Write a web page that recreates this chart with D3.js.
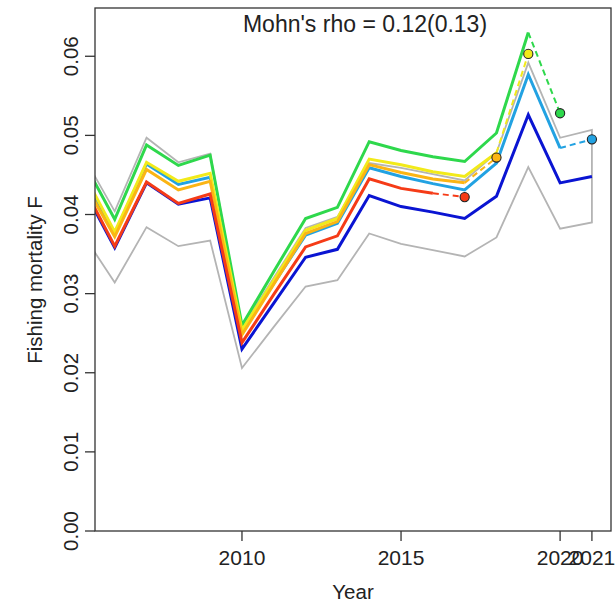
<!DOCTYPE html>
<html><head><meta charset="utf-8">
<script src="https://cdn.jsdelivr.net/npm/d3@7"></script>
<style>body{margin:0;background:#fff}svg{display:block;font-family:"Liberation Sans",Arial,sans-serif}</style>
</head><body><svg id="c" width="615" height="604"></svg>
<script>
// ---- data ----
const years = [2005,2006,2007,2008,2009,2010,2011,2012,2013,2014,2015,2016,2017,2018,2019,2020,2021];
const base  = [0.0434,0.0358,0.0440,0.0413,0.0421,0.0230,0.0288,0.0346,0.0356,0.0424,0.0410,0.0403,0.0395,0.0423,0.0526,0.0440,0.0448];
const peel1 = [0.0450,0.0376,0.0464,0.0438,0.0447,0.0252,0.0313,0.0374,0.0389,0.0459,0.0448,0.0439,0.0431,0.0465,0.0577,0.0484];
const peel2 = [0.0468,0.0394,0.0488,0.0462,0.0475,0.0260,0.0328,0.0395,0.0409,0.0492,0.0481,0.0473,0.0467,0.0503,0.0630];
const peel3 = [0.0454,0.0378,0.0466,0.0442,0.0452,0.0254,0.0317,0.0380,0.0395,0.0470,0.0463,0.0454,0.0448,0.0478];
const peel4 = [0.0443,0.0372,0.0457,0.0431,0.0442,0.0248,0.0312,0.0376,0.0391,0.0463,0.0453,0.0445,0.0440];
const peel5 = [0.0437,0.0360,0.0441,0.0414,0.0426,0.0238,0.0299,0.0359,0.0373,0.0445,0.0433,0.0427];
const ciUpper = [0.0475,0.0404,0.0497,0.0466,0.0477,0.0257,0.0320,0.0383,0.0397,0.0465,0.0459,0.0451,0.0443,0.0478,0.0592,0.0497,0.0507];
const ciLower = [0.0375,0.0314,0.0384,0.0360,0.0367,0.0206,0.0258,0.0309,0.0317,0.0376,0.0363,0.0355,0.0347,0.0371,0.0460,0.0382,0.0390];
const forecastYears  = [2021,2020,2019,2018,2017];
const forecastValues = [0.0495,0.0528,0.0603,0.0472,0.0422];
const seriesColors = ["#0A14D2","#22A2E2","#2ED84C","#F2EA1A","#FBB514","#F53B17"];
const xTicks = [2010,2015,2020,2021];
const yTicks = [0,0.01,0.02,0.03,0.04,0.05,0.06];
const titleText = "Mohn's rho = 0.12(0.13)";
const xLabel = "Year", yLabel = "Fishing mortality F";

// ---- layout ----
const L = 95, R = 611, T = 8, B = 531;
const x = d3.scaleLinear().domain([2005.38, 2021.6]).range([L, R]);
const y = d3.scaleLinear().domain([0, 0.0661]).range([B, T]);
const svg = d3.select("#c");

svg.append("clipPath").attr("id","clip").append("rect")
  .attr("x",L).attr("y",T).attr("width",R-L).attr("height",B-T);
const g = svg.append("g").attr("clip-path","url(#clip)");

const line = d3.line().x(d=>x(d[0])).y(d=>y(d[1]));

// CI polygon outline
const poly = years.map((yr,i)=>[yr,ciUpper[i]]).concat(years.map((yr,i)=>[yr,ciLower[i]]).reverse());
g.append("path").attr("d", line(poly)+"Z").attr("fill","none")
  .attr("stroke","#b4b4b4").attr("stroke-width",1.8);

const models = [base, peel1, peel2, peel3, peel4, peel5];
models.forEach((vals,k)=>{
  const pts = vals.map((v,i)=>[years[i],v]);
  g.append("path").attr("d",line(pts)).attr("fill","none")
    .attr("stroke",seriesColors[k]).attr("stroke-width",3).attr("stroke-linejoin","miter");
});
// dashed forecasts
models.slice(1).forEach((vals,j)=>{
  const last = [years[vals.length-1], vals[vals.length-1]];
  const fc = [forecastYears[j], forecastValues[j]];
  g.append("path").attr("d",line([last,fc])).attr("fill","none")
    .attr("stroke",seriesColors[j+1]).attr("stroke-width",2).attr("stroke-dasharray","6,4");
});
models.slice(1).forEach((vals,j)=>{
  g.append("circle").attr("cx",x(forecastYears[j])).attr("cy",y(forecastValues[j])).attr("r",4.6)
    .attr("fill",seriesColors[j+1]).attr("stroke","#222").attr("stroke-width",1.1);
});

// box
svg.append("rect").attr("x",L).attr("y",T).attr("width",R-L).attr("height",B-T)
  .attr("fill","none").attr("stroke","#333").attr("stroke-width",1.3);

// x axis
const xa = svg.append("g");
xTicks.forEach(t=>{
  xa.append("line").attr("x1",x(t)).attr("x2",x(t)).attr("y1",B).attr("y2",B+10)
    .attr("stroke","#333").attr("stroke-width",1.3);
  xa.append("text").attr("x",x(t)).attr("y",565).attr("text-anchor","middle")
    .attr("font-size",21).attr("fill","#222").text(t);
});
// y axis
const ya = svg.append("g");
yTicks.forEach(t=>{
  ya.append("line").attr("x1",L).attr("x2",L-10).attr("y1",y(t)).attr("y2",y(t))
    .attr("stroke","#333").attr("stroke-width",1.3);
  ya.append("text").attr("transform",`translate(78,${y(t)}) rotate(-90)`)
    .attr("text-anchor","middle").attr("font-size",20.5).attr("fill","#222")
    .text(d3.format(".2f")(t));
});
svg.append("text").attr("x",353).attr("y",599).attr("text-anchor","middle")
  .attr("font-size",20.5).attr("fill","#222").text(xLabel);
svg.append("text").attr("transform","translate(42,280) rotate(-90)").attr("text-anchor","middle")
  .attr("font-size",20.5).attr("fill","#222").text(yLabel);
svg.append("text").attr("x",365).attr("y",32).attr("text-anchor","middle")
  .attr("font-size",23).attr("fill","#222").text(titleText);
</script></body></html>
